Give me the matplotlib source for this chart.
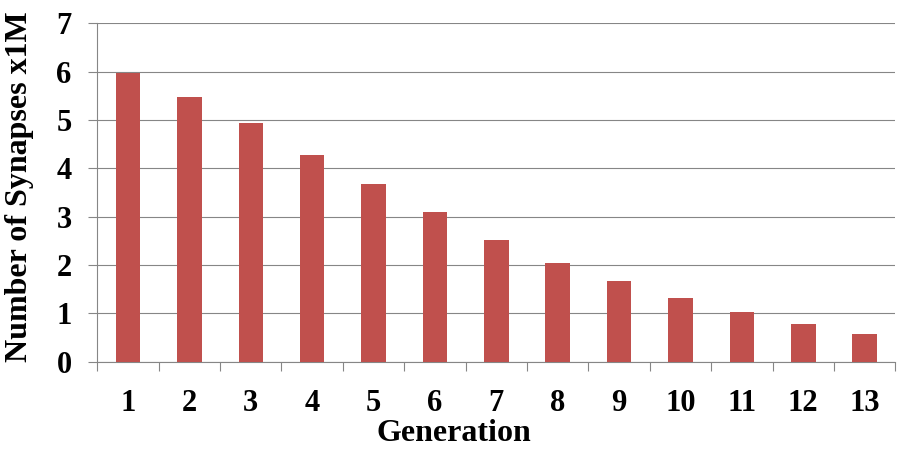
import numpy as np
import matplotlib.pyplot as plt

generations = np.arange(1, 14)
synapses = [5.97, 5.48, 4.94, 4.28, 3.68, 3.10, 2.52, 2.04, 1.67, 1.32, 1.03, 0.78, 0.57]
yticks = [0, 1, 2, 3, 4, 5, 6, 7]

plt.rcParams['font.family'] = ['Liberation Serif', 'DejaVu Serif']
plt.rcParams['font.weight'] = 'bold'

grid_col = '#868686'
fig = plt.figure(figsize=(9.07, 4.49), dpi=100)
ax = fig.add_axes([0.1073, 0.1944, 0.8798, 0.7536])

ax.bar(generations, synapses, width=0.4, color='#C0504D', zorder=3)

ax.set_xlim(0.5, 13.5)
ax.set_ylim(0, 7)
ax.set_yticks(yticks)
ax.yaxis.grid(True, color=grid_col, linewidth=0.8, zorder=0)

ax.set_xticks(generations)
ax.set_xticks(np.arange(0.5, 14, 1), minor=True)
ax.tick_params(axis='x', which='major', length=0, pad=20, labelsize=22)
ax.tick_params(axis='x', which='minor', length=6.5, width=0.8, color=grid_col, direction='out')
ax.tick_params(axis='y', length=6.5, width=0.8, color=grid_col, pad=12, labelsize=22)

for s in ['top', 'right']:
    ax.spines[s].set_visible(False)
for s in ['left', 'bottom']:
    ax.spines[s].set_color(grid_col)
    ax.spines[s].set_linewidth(0.8)

fig.text(0.5, 0.018, 'Generation', fontsize=23, fontweight='bold', ha='center', va='baseline')
fig.text(0.021, 0.5835, 'Number of Synapses x1M', fontsize=23, fontweight='bold',
         rotation=90, ha='center', va='center')

fig.savefig('out.png', dpi=100)
